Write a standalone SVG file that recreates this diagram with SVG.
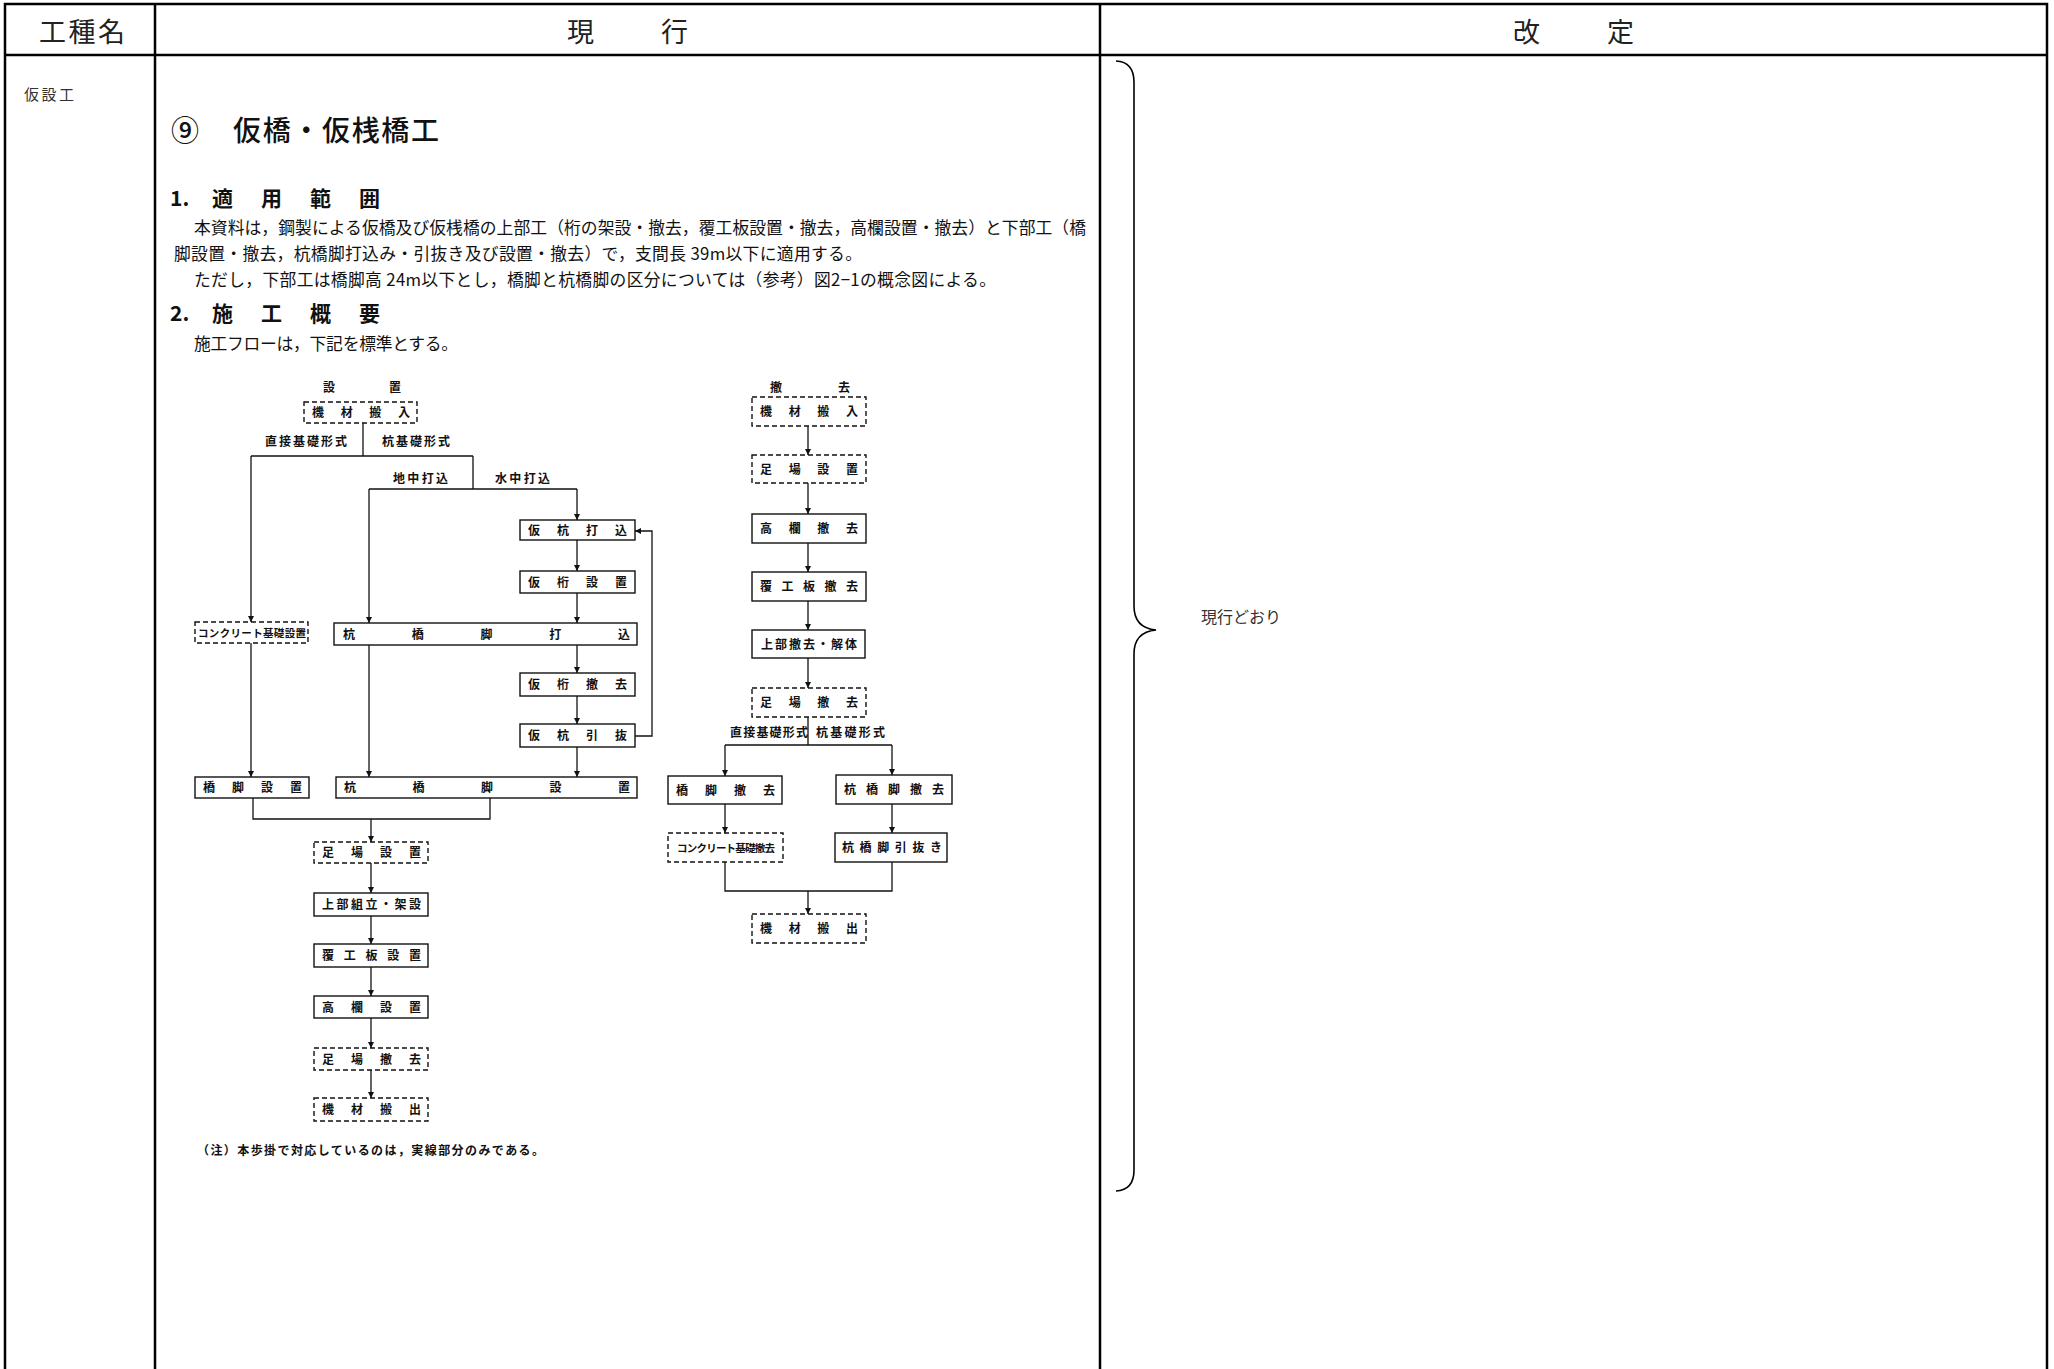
<svg xmlns="http://www.w3.org/2000/svg" width="2054" height="1369" viewBox="0 0 2054 1369">
<defs>
<style>
.tb{stroke:#000;stroke-width:2.5;fill:none}
.jp{font-family:"Noto Sans CJK JP","Noto Sans CJK SC",sans-serif;fill:#111}
.hd{font-size:27px;fill:#222}
.ttl{font-size:28px;font-weight:500}
.h2{font-size:21px;font-weight:700}
.body{font-size:16.8px}
.side{font-size:15px;fill:#333}
.note2{font-size:16px;fill:#333}
.fl{stroke:#111;stroke-width:1.3;fill:none}
.bx{fill:#fff;stroke:#111;stroke-width:1.4}
.dbx{fill:#fff;stroke:#111;stroke-width:1.4;stroke-dasharray:5 3}
.ft{font-size:12px;font-weight:700}
.fs{font-size:10.5px;font-weight:700}
</style>
<marker id="ar" viewBox="0 0 8 8" refX="8" refY="4" markerWidth="6" markerHeight="6" markerUnits="userSpaceOnUse" orient="auto"><path d="M0,0 L8,4 L0,8 z" fill="#111"/></marker>
</defs>
<rect width="2054" height="1369" fill="#fff"/>

<g id="table">
<path class="tb" d="M5,1369 V4 H2047 V1369 M5,55 H2047 M155,4 V1369 M1100,4 V1369"/>
<text class="jp hd" x="39" y="42" textLength="86" lengthAdjust="spacing">工種名</text>
<text class="jp hd" x="567" y="42" textLength="121" lengthAdjust="spacing">現　　行</text>
<text class="jp hd" x="1513" y="42" textLength="121" lengthAdjust="spacing">改　　定</text>
<text class="jp side" x="24" y="100" textLength="50" lengthAdjust="spacing">仮設工</text>
</g>

<g id="text-current">
<text class="jp ttl" x="171" y="141">⑨</text>
<text class="jp ttl" x="233" y="141" textLength="206" lengthAdjust="spacing">仮橋・仮桟橋工</text>
<text class="jp h2" x="170" y="206">1.</text>
<text class="jp h2" x="212" y="206" textLength="168" lengthAdjust="spacing">適用範囲</text>
<text class="jp body" x="194" y="234" textLength="892" lengthAdjust="spacing">本資料は，鋼製による仮橋及び仮桟橋の上部工（桁の架設・撤去，覆工板設置・撤去，高欄設置・撤去）と下部工（橋</text>
<text class="jp body" x="174" y="260" textLength="688" lengthAdjust="spacing">脚設置・撤去，杭橋脚打込み・引抜き及び設置・撤去）で，支間長 39m以下に適用する。</text>
<text class="jp body" x="194" y="286" textLength="802" lengthAdjust="spacing">ただし，下部工は橋脚高 24m以下とし，橋脚と杭橋脚の区分については（参考）図2−1の概念図による。</text>
<text class="jp h2" x="170" y="321">2.</text>
<text class="jp h2" x="212" y="321" textLength="168" lengthAdjust="spacing">施工概要</text>
<text class="jp body" x="194" y="350" textLength="264" lengthAdjust="spacing">施工フローは，下記を標準とする。</text>
</g>

<g id="connectors">
<!-- left flow -->
<path class="fl" d="M363,423 V456 M251,456 H473 M473,456 V489 M369,489 H577"/>
<path class="fl" marker-end="url(#ar)" d="M251,456 V622"/>
<path class="fl" marker-end="url(#ar)" d="M369,489 V623"/>
<path class="fl" marker-end="url(#ar)" d="M577,489 V520"/>
<path class="fl" marker-end="url(#ar)" d="M577,540 V571"/>
<path class="fl" marker-end="url(#ar)" d="M577,593 V623"/>
<path class="fl" marker-end="url(#ar)" d="M251,643 V777"/>
<path class="fl" marker-end="url(#ar)" d="M369,645 V777"/>
<path class="fl" marker-end="url(#ar)" d="M577,645 V673"/>
<path class="fl" marker-end="url(#ar)" d="M577,696 V724"/>
<path class="fl" marker-end="url(#ar)" d="M635,736 H652 V531 H635"/>
<path class="fl" marker-end="url(#ar)" d="M577,747 V777"/>
<path class="fl" d="M253,798 V819 H490 V798"/>
<path class="fl" marker-end="url(#ar)" d="M371,819 V842"/>
<path class="fl" marker-end="url(#ar)" d="M371,863 V893"/>
<path class="fl" marker-end="url(#ar)" d="M371,916 V944"/>
<path class="fl" marker-end="url(#ar)" d="M371,967 V996"/>
<path class="fl" marker-end="url(#ar)" d="M371,1018 V1048"/>
<path class="fl" marker-end="url(#ar)" d="M371,1070 V1098"/>
<!-- right flow -->
<path class="fl" marker-end="url(#ar)" d="M808,426 V455"/>
<path class="fl" marker-end="url(#ar)" d="M808,483 V514"/>
<path class="fl" marker-end="url(#ar)" d="M808,543 V572"/>
<path class="fl" marker-end="url(#ar)" d="M808,601 V630"/>
<path class="fl" marker-end="url(#ar)" d="M808,658 V688"/>
<path class="fl" d="M808,717 V745 M725,745 H892"/>
<path class="fl" marker-end="url(#ar)" d="M725,745 V776"/>
<path class="fl" marker-end="url(#ar)" d="M892,745 V775"/>
<path class="fl" marker-end="url(#ar)" d="M725,804 V833"/>
<path class="fl" marker-end="url(#ar)" d="M892,804 V833"/>
<path class="fl" d="M725,862 V891 H892 V862"/>
<path class="fl" marker-end="url(#ar)" d="M808,891 V914"/>
</g>

<g id="flow-labels">
<text class="jp ft" x="323" y="392">設</text>
<text class="jp ft" x="389" y="392">置</text>
<text class="jp ft" x="265" y="446" textLength="82" lengthAdjust="spacing">直接基礎形式</text>
<text class="jp ft" x="382" y="446" textLength="68" lengthAdjust="spacing">杭基礎形式</text>
<text class="jp ft" x="393" y="483" textLength="55" lengthAdjust="spacing">地中打込</text>
<text class="jp ft" x="495" y="483" textLength="55" lengthAdjust="spacing">水中打込</text>
<text class="jp ft" x="770" y="392">撤</text>
<text class="jp ft" x="838" y="392">去</text>
<text class="jp ft" x="730" y="737" textLength="78" lengthAdjust="spacing">直接基礎形式</text>
<text class="jp ft" x="816" y="737" textLength="69" lengthAdjust="spacing">杭基礎形式</text>
<text class="jp ft" x="197" y="1155" textLength="347" lengthAdjust="spacing">（注）本歩掛で対応しているのは，実線部分のみである。</text>
</g>

<g id="n-l-kizai-in"><rect class="dbx" x="304" y="402" width="113" height="21"/><text class="jp ft" x="312" y="417" textLength="98" lengthAdjust="spacing">機材搬入</text></g>
<g id="n-l-karikui-uchi"><rect class="bx" x="520" y="520" width="115" height="20"/><text class="jp ft" x="528" y="534.5" textLength="99" lengthAdjust="spacing">仮杭打込</text></g>
<g id="n-l-karigeta-set"><rect class="bx" x="520" y="571" width="115" height="22"/><text class="jp ft" x="528" y="586.5" textLength="99" lengthAdjust="spacing">仮桁設置</text></g>
<g id="n-l-concrete"><rect class="dbx" x="195" y="622" width="113" height="21"/><text class="jp fs" x="198" y="636.5" textLength="108" lengthAdjust="spacing">コンクリート基礎設置</text></g>
<g id="n-l-kuikyakudachi"><rect class="bx" x="334" y="623" width="303" height="22"/><text class="jp ft" x="343" y="638.5" textLength="287" lengthAdjust="spacing">杭橋脚打込</text></g>
<g id="n-l-karigeta-del"><rect class="bx" x="520" y="673" width="115" height="23"/><text class="jp ft" x="528" y="689" textLength="99" lengthAdjust="spacing">仮桁撤去</text></g>
<g id="n-l-karikui-nuki"><rect class="bx" x="520" y="724" width="115" height="23"/><text class="jp ft" x="528" y="740" textLength="99" lengthAdjust="spacing">仮杭引抜</text></g>
<g id="n-l-kyakyaku-set"><rect class="bx" x="195" y="777" width="114" height="21"/><text class="jp ft" x="203" y="792" textLength="99" lengthAdjust="spacing">橋脚設置</text></g>
<g id="n-l-kuikyakyaku-set"><rect class="bx" x="336" y="777" width="301" height="21"/><text class="jp ft" x="344" y="792" textLength="286" lengthAdjust="spacing">杭橋脚設置</text></g>
<g id="n-l-ashiba-set"><rect class="dbx" x="314" y="842" width="114" height="21"/><text class="jp ft" x="322" y="857" textLength="99" lengthAdjust="spacing">足場設置</text></g>
<g id="n-l-jobu"><rect class="bx" x="314" y="893" width="114" height="23"/><text class="jp ft" x="322" y="909" textLength="99" lengthAdjust="spacing">上部組立・架設</text></g>
<g id="n-l-fukko"><rect class="bx" x="314" y="944" width="114" height="23"/><text class="jp ft" x="322" y="960" textLength="99" lengthAdjust="spacing">覆工板設置</text></g>
<g id="n-l-koran"><rect class="bx" x="314" y="996" width="114" height="22"/><text class="jp ft" x="322" y="1011.5" textLength="99" lengthAdjust="spacing">高欄設置</text></g>
<g id="n-l-ashiba-del"><rect class="dbx" x="314" y="1048" width="114" height="22"/><text class="jp ft" x="322" y="1063.5" textLength="99" lengthAdjust="spacing">足場撤去</text></g>
<g id="n-l-kizai-out"><rect class="dbx" x="314" y="1098" width="114" height="23"/><text class="jp ft" x="322" y="1114" textLength="99" lengthAdjust="spacing">機材搬出</text></g>

<g id="n-r-kizai-in"><rect class="dbx" x="752" y="397" width="114" height="29"/><text class="jp ft" x="760" y="416" textLength="98" lengthAdjust="spacing">機材搬入</text></g>
<g id="n-r-ashiba-set"><rect class="dbx" x="752" y="455" width="114" height="28"/><text class="jp ft" x="760" y="473.5" textLength="98" lengthAdjust="spacing">足場設置</text></g>
<g id="n-r-koran"><rect class="bx" x="752" y="514" width="114" height="29"/><text class="jp ft" x="760" y="533" textLength="98" lengthAdjust="spacing">高欄撤去</text></g>
<g id="n-r-fukko"><rect class="bx" x="752" y="572" width="114" height="29"/><text class="jp ft" x="760" y="591" textLength="98" lengthAdjust="spacing">覆工板撤去</text></g>
<g id="n-r-jobu"><rect class="bx" x="752" y="630" width="113" height="28"/><text class="jp ft" x="761" y="648.5" textLength="96" lengthAdjust="spacing">上部撤去・解体</text></g>
<g id="n-r-ashiba-del"><rect class="dbx" x="752" y="688" width="114" height="29"/><text class="jp ft" x="760" y="707" textLength="98" lengthAdjust="spacing">足場撤去</text></g>
<g id="n-r-kyakyaku-del"><rect class="bx" x="668" y="776" width="114" height="28"/><text class="jp ft" x="676" y="794.5" textLength="99" lengthAdjust="spacing">橋脚撤去</text></g>
<g id="n-r-kuikyakyaku-del"><rect class="bx" x="836" y="775" width="116" height="29"/><text class="jp ft" x="844" y="794" textLength="100" lengthAdjust="spacing">杭橋脚撤去</text></g>
<g id="n-r-concrete"><rect class="dbx" x="668" y="833" width="115" height="29"/><text class="jp fs" x="677" y="851.5" textLength="98" lengthAdjust="spacing">コンクリート基礎撤去</text></g>
<g id="n-r-nuki"><rect class="bx" x="835" y="833" width="112" height="29"/><text class="jp ft" x="842" y="852" textLength="100" lengthAdjust="spacing">杭橋脚引抜き</text></g>
<g id="n-r-kizai-out"><rect class="dbx" x="752" y="914" width="114" height="29"/><text class="jp ft" x="760" y="933" textLength="98" lengthAdjust="spacing">機材搬出</text></g>

<g id="revised">
<path fill="none" stroke="#000" stroke-width="1.6" d="M1116,61 Q1134,62 1134,82 L1134,606 Q1134,628 1156,630 Q1134,632 1134,654 L1134,1170 Q1134,1190 1116,1191"/>
<text class="jp note2" x="1201" y="623" textLength="80" lengthAdjust="spacing">現行どおり</text>
</g>
</svg>
